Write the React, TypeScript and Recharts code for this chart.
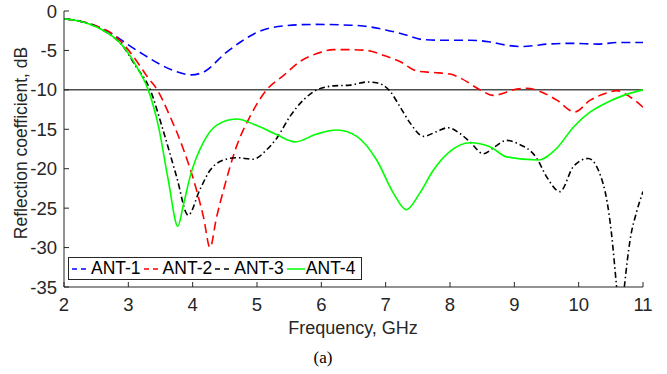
import React from 'react';
import { LineChart, Line, XAxis, YAxis, ReferenceLine, Legend, Label } from 'recharts';

// tick values
const X_TICKS = [2, 3, 4, 5, 6, 7, 8, 9, 10, 11];
const Y_TICKS = [-35, -30, -25, -20, -15, -10, -5, 0];

// ANT-1 (blue dashed)
const ANT1_F = [2.0, 2.25, 2.5, 2.75, 3.0, 3.25, 3.5, 3.75, 3.98, 4.2, 4.5, 4.75, 5.0, 5.4, 5.9, 6.45, 6.65, 7.0, 7.3, 7.55, 7.8, 8.3, 8.6, 8.85, 9.1, 9.3, 9.5, 9.9, 10.3, 10.6, 11.0];
const ANT1_DB = [-1.0, -1.3, -1.9, -2.9, -4.3, -5.6, -6.8, -7.7, -8.1, -7.6, -5.4, -3.9, -2.7, -1.9, -1.7, -1.8, -1.9, -2.4, -3.0, -3.6, -3.7, -3.7, -3.9, -4.3, -4.5, -4.4, -4.2, -4.1, -4.2, -4.0, -4.0];

// ANT-2 (red dashed)
const ANT2_F = [2.0, 2.25, 2.5, 2.75, 2.9, 3.15, 3.3, 3.45, 3.65, 3.85, 4.06, 4.17, 4.27, 4.37, 4.48, 4.68, 4.89, 5.15, 5.41, 5.67, 5.93, 6.19, 6.45, 6.71, 6.96, 7.22, 7.48, 7.74, 8.0, 8.16, 8.47, 8.67, 9.04, 9.19, 9.4, 9.66, 9.94, 10.18, 10.44, 10.59, 10.8, 11.0];
const ANT2_DB = [-1.0, -1.3, -1.9, -2.9, -4.0, -6.6, -8.4, -10.0, -13.4, -17.4, -22.7, -26.2, -30.0, -26.2, -22.7, -17.2, -13.4, -10.0, -8.2, -6.4, -5.4, -4.9, -4.9, -5.0, -5.6, -6.4, -7.6, -7.8, -8.0, -8.5, -10.0, -10.7, -9.9, -9.8, -10.2, -11.3, -12.8, -11.3, -10.4, -10.1, -10.9, -12.2];

// ANT-3 (black dash-dot)
const ANT3_F = [2.0, 2.25, 2.5, 2.75, 2.9, 3.1, 3.34, 3.54, 3.75, 3.93, 4.11, 4.27, 4.48, 4.68, 4.94, 5.15, 5.31, 5.51, 5.72, 5.93, 6.19, 6.45, 6.71, 6.86, 7.07, 7.22, 7.38, 7.59, 7.79, 7.97, 8.15, 8.31, 8.52, 8.7, 8.88, 9.05, 9.35, 9.5, 9.71, 9.92, 10.15, 10.38, 10.51, 10.59, 10.65, 10.71, 10.8, 10.9, 11.0];
const ANT3_DB = [-1.0, -1.3, -2.0, -3.2, -4.3, -6.8, -10.0, -15.1, -21.0, -25.9, -22.7, -20.2, -18.9, -18.6, -18.8, -17.6, -16.1, -13.4, -11.3, -10.0, -9.5, -9.4, -9.0, -9.1, -10.2, -12.1, -14.2, -15.9, -15.3, -14.8, -15.5, -16.6, -18.1, -17.2, -16.4, -16.8, -18.7, -21.0, -22.9, -19.7, -18.7, -21.9, -28.2, -35.0, -40.0, -35.0, -29.0, -25.5, -22.9];

// ANT-4 (green solid)
const ANT4_F = [2.0, 2.25, 2.5, 2.75, 2.9, 3.16, 3.31, 3.47, 3.62, 3.77, 3.85, 3.96, 4.17, 4.37, 4.68, 4.99, 5.31, 5.59, 5.93, 6.24, 6.55, 6.86, 7.12, 7.32, 7.53, 7.74, 8.0, 8.31, 8.62, 8.88, 9.37, 9.66, 9.92, 10.18, 10.44, 10.7, 11.0];
const ANT4_DB = [-1.0, -1.3, -2.0, -3.2, -4.3, -7.5, -10.0, -14.7, -21.4, -27.3, -24.8, -21.0, -16.6, -14.5, -13.7, -14.5, -15.7, -16.6, -15.6, -15.1, -15.9, -18.9, -23.1, -25.2, -23.1, -20.2, -17.8, -16.7, -17.2, -18.5, -18.9, -17.4, -14.7, -12.8, -11.6, -10.7, -10.0];

const SERIES = [
  { name: 'ANT-1', f: ANT1_F, db: ANT1_DB, color: '#0000ff', dash: '9 5' },
  { name: 'ANT-2', f: ANT2_F, db: ANT2_DB, color: '#ff0000', dash: '9 5' },
  { name: 'ANT-3', f: ANT3_F, db: ANT3_DB, color: '#000000', dash: '6 3 1.5 3' },
  { name: 'ANT-4', f: ANT4_F, db: ANT4_DB, color: '#00ff00', dash: undefined as string | undefined },
];

const FONT = '"Liberation Sans", Arial, sans-serif';
const AXIS = '#262626';

const LegendBox = () => (
  <div
    style={{
      display: 'flex',
      alignItems: 'center',
      height: 23,
      boxSizing: 'border-box',
      padding: '0 3px',
      background: '#fff',
      border: `1px solid ${AXIS}`,
      fontFamily: FONT,
      fontSize: 17.5,
      color: '#000',
      whiteSpace: 'nowrap',
    }}
  >
    {SERIES.map((s) => (
      <div key={`lg-${s.name}`} style={{ display: 'flex', alignItems: 'center', marginRight: 3 }}>
        <svg width={18} height={10} style={{ marginRight: 1 }}>
          <line x1={0} y1={5} x2={18} y2={5} stroke={s.color} strokeWidth={1.5} strokeDasharray={s.dash ? '5 4' : undefined} />
        </svg>
        <span>{s.name}</span>
      </div>
    ))}
  </div>
);

export default function App() {
  return (
    <div style={{ position: 'absolute', left: 0, top: 0, width: 667, height: 374, background: '#fff' }}>
      <LineChart width={667} height={374} margin={{ top: 11, right: 24, left: 0, bottom: 0 }}>
        <XAxis
          type="number"
          dataKey="f"
          domain={[2, 11]}
          ticks={X_TICKS}
          allowDataOverflow
          height={87}
          stroke={AXIS}
          tickSize={-5}
          tickMargin={16}
          tick={{ fill: AXIS, fontSize: 18.5, fontFamily: FONT }}
        >
          <Label
            content={() => (
              <g>
                <text x={353} y={334} textAnchor="middle" fontFamily={FONT} fontSize={18} fill={AXIS}>
                  Frequency, GHz
                </text>
                <text x={323} y={363} textAnchor="middle" fontFamily='"Liberation Serif", "Times New Roman", serif' fontSize={17} fill="#000">
                  (a)
                </text>
              </g>
            )}
          />
        </XAxis>
        <YAxis
          type="number"
          domain={[-35, 0]}
          ticks={Y_TICKS}
          allowDataOverflow
          width={64}
          stroke={AXIS}
          tickSize={-5}
          tickMargin={12}
          tick={{ fill: AXIS, fontSize: 18.5, fontFamily: FONT }}
        >
          <Label
            content={() => (
              <text
                x={21}
                y={143}
                transform="rotate(-90 21 143)"
                textAnchor="middle"
                dominantBaseline="central"
                fontFamily={FONT}
                fontSize={17.5}
                fill={AXIS}
              >
                Reflection coefficient, dB
              </text>
            )}
          />
        </YAxis>
        <ReferenceLine y={-10} stroke="#4d4d4d" strokeWidth={1.5} />
        {SERIES.map((s) => (
          <Line
            key={`ln-${s.name}`}
            data={s.f.map((f, i) => ({ f, db: s.db[i] }))}
            dataKey="db"
            name={s.name}
            type="monotone"
            stroke={s.color}
            strokeWidth={1.6}
            strokeDasharray={s.dash}
            dot={false}
            activeDot={false}
            isAnimationActive={false}
          />
        ))}
        <Legend
          layout="vertical"
          align="center"
          verticalAlign="middle"
          content={() => <LegendBox />}
          wrapperStyle={{ left: 68, top: 257, width: 'auto' }}
        />
      </LineChart>
    </div>
  );
}
